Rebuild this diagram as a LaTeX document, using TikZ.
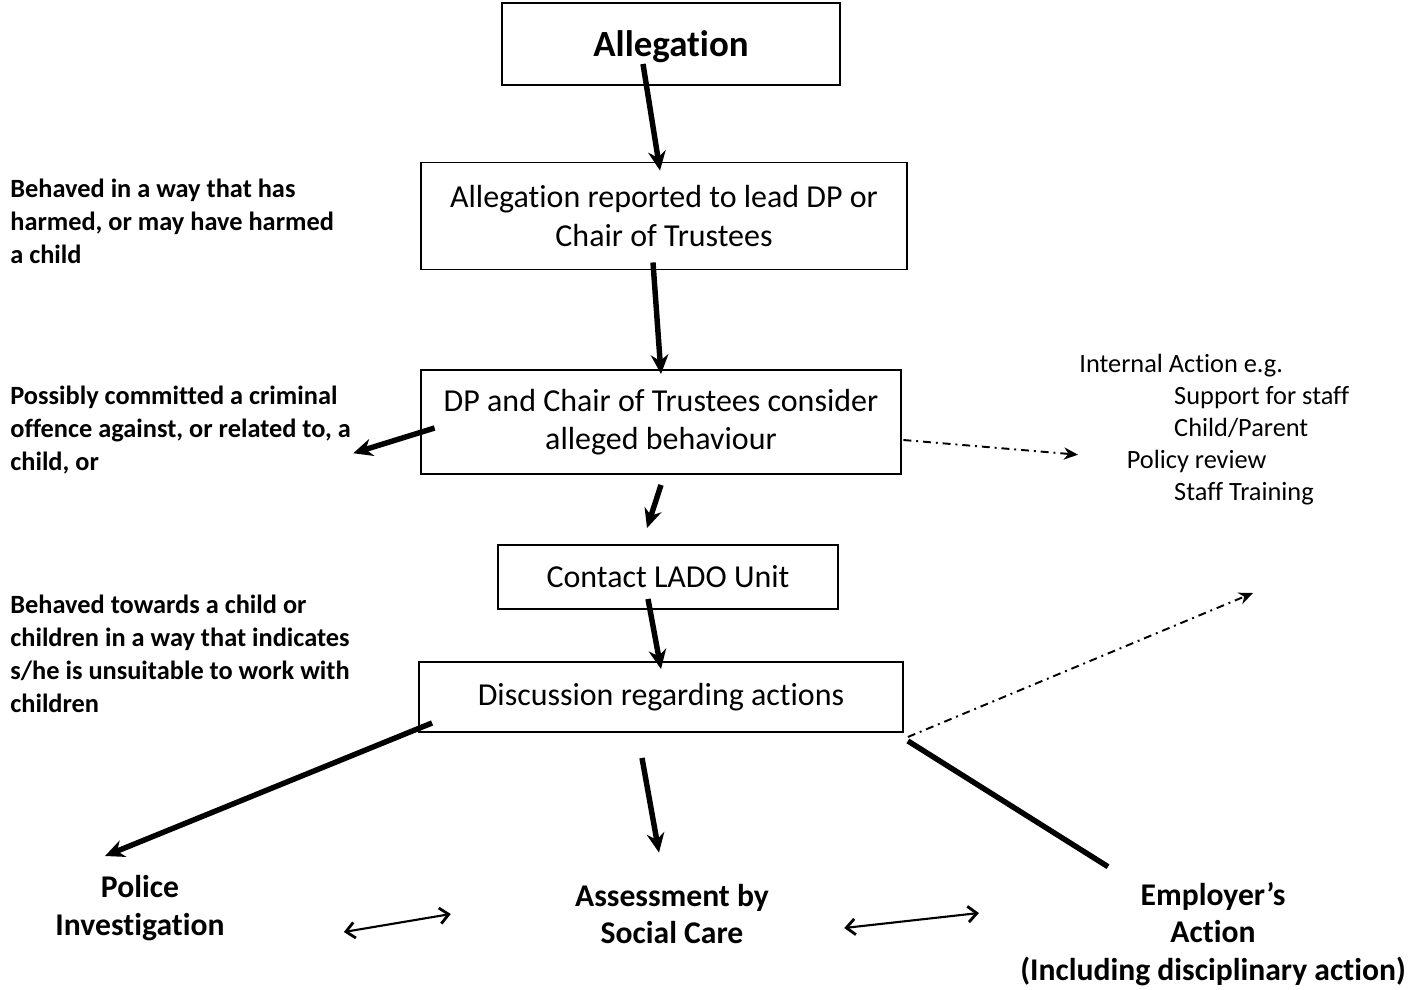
\documentclass[tikz,border=0pt]{standalone}
\usepackage{fontspec}
\setmainfont{Carlito}[Ligatures=NoCommon]
\usepackage{tikz}
\usetikzlibrary{arrows.meta, positioning}
\usetikzlibrary{calc}

\tikzset{
  box/.style={draw, line width=1.1pt, align=center, inner sep=0pt,
    font=\fontsize{18.2}{22}\selectfont},
  flow/.style={line width=3.1pt, -{Stealth[length=11pt,width=10pt]}},
  dashflow/.style={line width=1.1pt, dash pattern=on 4.5pt off 2.8pt on 1.1pt off 2.8pt,
    -{Stealth[length=8pt,width=7pt]}},
  link/.style={line width=1.2pt, {Straight Barb[length=5pt,width=9pt,line width=1.6pt]}-{Straight Barb[length=5pt,width=9pt,line width=1.6pt]}},
  note/.style={align=left, inner sep=0pt, font=\bfseries\fontsize{15}{18.7}\selectfont},
  outcome/.style={align=center, inner sep=0pt, font=\bfseries\fontsize{18}{21.5}\selectfont}
}

\begin{document}
\begin{tikzpicture}[x=0.02cm,y=-0.02cm]
            \useasboundingbox (0,0) rectangle (1427,990);
            % boxes down the middle
            \node[box, minimum width=6.76cm, minimum height=1.64cm, text depth=0pt, font=\bfseries\fontsize{21}{25}\selectfont](alleg) at (671,44) {Allegation};
            \node[box, minimum width=9.72cm, minimum height=2.14cm](rep) at (664,216) {Allegation reported to lead DP or\\Chair of Trustees};
            \node[box, minimum width=9.62cm, minimum height=2.08cm](cons) at (661,422) {DP and Chair of Trustees consider\\alleged behaviour};
            \node[box, minimum width=6.8cm, minimum height=1.28cm](lado) at (668,577) {Contact LADO Unit};
            \node[box, minimum width=9.68cm, minimum height=1.4cm](disc) at (661,697) {Discussion regarding actions};
            % notes on the left
            \node[note, anchor=north west](harm) at (10,179) {Behaved in a way that has\\harmed, or may have harmed\\a child};
            \node[note, anchor=north west](crim) at (10,386) {Possibly committed a criminal\\offence against, or related to, a\\child, or};
            \node[note, anchor=north west](unsuit) at (10,595) {Behaved towards a child or\\children in a way that indicates\\s/he is unsuitable to work with\\children};
            % internal action list
            \node[align=left, inner sep=0pt, anchor=north west, font=\fontsize{15}{18.2}\selectfont](internal) at (1079,354) {Internal Action e.g.\\
              \hspace*{54pt}Support for staff\\
              \hspace*{54pt}Child/Parent\\
              \hspace*{27pt}Policy review\\
              \hspace*{54pt}Staff Training};
            % outcomes
            \node[outcome](police) at (140,908) {Police\\Investigation};
            \node[outcome](assess) at (672,914) {Assessment by\\Social Care};
            \node[outcome](employer) at (1213,934) {Employer’s\\Action\\(Including disciplinary action)};
            \coordinate (upright) at (1253,593);
            % connectors
            \draw[flow] ($(alleg.south)+(-28,-22)$) -- ($(rep.north)+(-4,9)$);
            \draw[flow] ($(rep.south)+(-11,-8)$) -- ($(cons.north)+(0,5)$);
            \draw[flow] ($(cons.south)+(0,10)$) -- ($(lado.north)+(-21,-16)$);
            \draw[flow] ($(lado.south)+(-20,-11)$) -- ($(disc.north)+(0,8)$);
            \draw[flow] ($(cons.west)+(15,6)$) -- ($(crim.east)+(2,23)$);
            \draw[flow] ($(disc.south west)+(14,-10)$) -- ($(police.north)+(-35,-19)$);
            \draw[flow] ($(disc.south)+(-19,25)$) -- ($(assess.north)+(-13,-31)$);
            \draw[line width=3.1pt] ($(disc.south east)+(4,8)$) -- ($(employer.north)+(-105,-15)$);
            \draw[dashflow] ($(cons.east)+(1,18)$) -- ($(internal.west)+(-1,25)$);
            \draw[dashflow] ($(disc.south east)+(4,4)$) -- (upright);
            \draw[link] ($(police.east)+(119,24)$) -- ($(assess.west)+(-124,0)$);
            \draw[link] ($(assess.east)+(75,14)$) -- ($(employer.west)+(-41,-21)$);
        \end{tikzpicture}
\end{document}
